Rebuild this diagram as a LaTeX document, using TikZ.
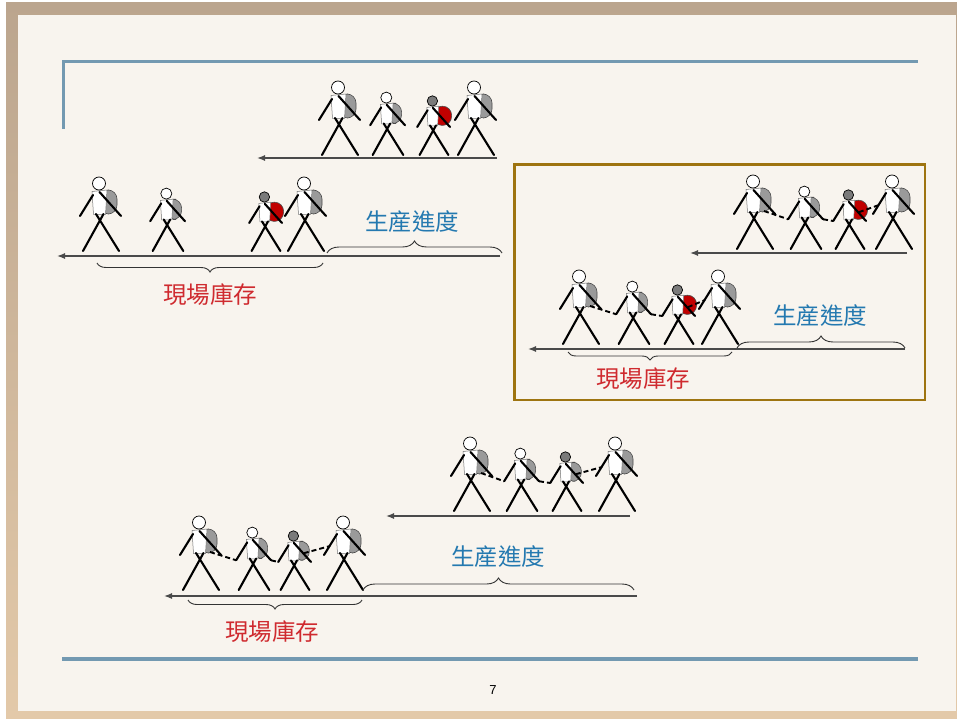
\documentclass[tikz,border=0pt]{standalone}
\usepackage{fontspec}
\setmainfont{Liberation Sans}
\newfontfamily\cjk{Noto Sans CJK TC}
\usetikzlibrary{arrows.meta,decorations.pathreplacing}

\definecolor{cream}{HTML}{F8F4EE}
\definecolor{frametop}{HTML}{BBA58E}
\definecolor{framebot}{HTML}{E3C9A9}
\definecolor{rulecol}{HTML}{7399B1}
\definecolor{boxgold}{HTML}{9E7410}
\definecolor{packgray}{HTML}{9A9A9A}
\definecolor{headgray}{HTML}{7A7A7A}
\definecolor{packred}{HTML}{C00000}
\definecolor{stockred}{HTML}{CF2A2F}
\definecolor{progblue}{HTML}{2479B0}
\definecolor{flowgray}{HTML}{4A4A4A}

\tikzset{
  limb/.style={line width=2.1pt, line cap=round},
  flow/.style={draw=flowgray, line width=1.3pt, -{Latex[length=8pt,width=6pt]}},
  rope/.style={line width=1.9pt, dash pattern=on 5pt off 3pt},
  curly/.style={decorate, decoration={brace, amplitude=#1}, draw=black!80, line width=0.9pt},
  curly/.default=9pt,
  stock/.style={text=stockred, font=\cjk\fontsize{23.5}{23.5}\selectfont, inner sep=0pt},
  prog/.style={text=progblue, font=\cjk\fontsize{23.5}{23.5}\selectfont, inner sep=0pt},
  % walker: head colour, pack colour, right edge of the pack
  pics/hiker/.style n args={3}{code={
    \filldraw[fill=#2, draw=black!70, line width=0.6pt, rounded corners=9pt]
      (-1,-61) -- (#3+1,-61) -- (#3+1,-37) -- (-1,-37) -- cycle;
    \filldraw[fill=white, draw=black!55, line width=0.5pt]
      (-9,-59.5) -- (6,-61) -- (4.5,-36.5) -- (-7.5,-36.5) -- cycle;
    \filldraw[fill=#1, draw=black, line width=0.7pt] (-2,-67.5) circle[radius=6.5pt];
    \draw[limb] (-8,-56) -- (-21,-35);
    \draw[limb] (-1.5,-59) -- (20,-35);
    \draw[limb] (-5,-37) -- (18,0);
    \draw[limb] (2.5,-37) -- (-18,0);
    \coordinate (-lh) at (-21,-35);
    \coordinate (-larm) at (-15,-44);
    \coordinate (-rh) at (20,-35);
    \coordinate (-hip) at (9,-38);
    \coordinate (-pack) at (11,-46);
  }},
}

\begin{document}
\begin{tikzpicture}[x=1pt, y=-1pt]
\useasboundingbox (0,0) rectangle (957,719);

% slide frame
\fill[white] (0,0) rectangle (957,719);
\shade[top color=frametop, bottom color=framebot] (6,3) rectangle (957,719);
\fill[cream] (18,15) rectangle (956,711);

% title and footer rules
\draw[rulecol, line width=3pt] (63.5,129) -- (63.5,61.3) -- (918,61.3);
\draw[rulecol, line width=4pt] (62,659) -- (918,659);

% ---------- row 1 ----------
\pic (a1) at (340,155) {hiker={white}{packgray}{15}};
\pic[scale=0.85] (a2) at (388,155) {hiker={white}{packgray}{15}};
\pic[scale=0.8] (a3) at (434,155) {hiker={headgray}{packred}{21}};
\pic (a4) at (476,155) {hiker={white}{packgray}{15}};
\coordinate (a-s) at (497,158);
\coordinate (a-e) at (257,158);
\draw[flow] (a-s) -- (a-e);

% ---------- row 2 ----------
\pic (b1) at (101,251) {hiker={white}{packgray}{15}};
\pic[scale=0.85] (b2) at (168,251) {hiker={white}{packgray}{15}};
\pic[scale=0.8] (b3) at (266,251) {hiker={headgray}{packred}{21}};
\pic (b4) at (306,251) {hiker={white}{packgray}{15}};
\coordinate (b-s) at (500,256);
\coordinate (b-e) at (57,256);
\draw[flow] (b-s) -- (b-e);
\coordinate (b-u1) at (323,263);
\coordinate (b-u2) at (97,263);
\draw[curly] (b-u1) -- (b-u2);
\node[stock] (b-stock) at (210,295) {現場庫存};
\coordinate (b-o1) at (327,253);
\coordinate (b-o2) at (502,253);
\draw[curly=12pt] (b-o1) -- (b-o2);
\node[prog] (b-prog) at (412,222) {生産進度};

% ---------- roped team in the frame ----------
\draw[boxgold, line width=2.5pt] (514.5,164.5) rectangle (925,400);

\pic (c1) at (755,249) {hiker={white}{packgray}{15}};
\pic[scale=0.85] (c2) at (806,249) {hiker={white}{packgray}{15}};
\pic[scale=0.8] (c3) at (850,249) {hiker={headgray}{packred}{21}};
\pic (c4) at (894,249) {hiker={white}{packgray}{15}};
\draw[rope] (c1-hip) -- (c2-lh);
\draw[rope] (c2-rh) -- (c3-lh);
\draw[rope] (c3-pack) -- (c4-larm);
\coordinate (c-s) at (907,253);
\coordinate (c-e) at (690,253);
\draw[flow] (c-s) -- (c-e);

\pic (d1) at (581,344) {hiker={white}{packgray}{15}};
\pic[scale=0.85] (d2) at (634,344) {hiker={white}{packgray}{15}};
\pic[scale=0.8] (d3) at (679,344) {hiker={headgray}{packred}{21}};
\pic (d4) at (720,344) {hiker={white}{packgray}{15}};
\draw[rope] (d1-hip) -- (d2-lh);
\draw[rope] (d2-rh) -- (d3-lh);
\draw[rope] (d3-pack) -- (d4-larm);
\coordinate (d-s) at (905,349);
\coordinate (d-e) at (528,349);
\draw[flow] (d-s) -- (d-e);
\coordinate (d-u1) at (732,352);
\coordinate (d-u2) at (568,352);
\draw[curly=8pt] (d-u1) -- (d-u2);
\node[stock] (d-stock) at (643,379) {現場庫存};
\coordinate (d-o1) at (737,348);
\coordinate (d-o2) at (905,348);
\draw[curly=12pt] (d-o1) -- (d-o2);
\node[prog] (d-prog) at (820,316) {生産進度};

% ---------- bottom roped team ----------
\pic (e1) at (472,511) {hiker={white}{packgray}{15}};
\pic[scale=0.85] (e2) at (522,511) {hiker={white}{packgray}{15}};
\pic[scale=0.8] (e3) at (567,511) {hiker={headgray}{packgray}{17}};
\pic (e4) at (617,511) {hiker={white}{packgray}{15}};
\draw[rope] (e1-hip) -- (e2-lh);
\draw[rope] (e2-rh) -- (e3-lh);
\draw[rope] (e3-pack) -- (e4-larm);
\coordinate (e-s) at (630,516);
\coordinate (e-e) at (386,516);
\draw[flow] (e-s) -- (e-e);

\pic (f1) at (201,590) {hiker={white}{packgray}{15}};
\pic[scale=0.85] (f2) at (254,590) {hiker={white}{packgray}{15}};
\pic[scale=0.8] (f3) at (295,590) {hiker={headgray}{packgray}{17}};
\pic (f4) at (345,590) {hiker={white}{packgray}{15}};
\draw[rope] (f1-hip) -- (f2-lh);
\draw[rope] (f2-rh) -- (f3-lh);
\draw[rope] (f3-pack) -- (f4-larm);
\coordinate (f-s) at (637,596);
\coordinate (f-e) at (164,596);
\draw[flow] (f-s) -- (f-e);
\coordinate (f-u1) at (362,600);
\coordinate (f-u2) at (188,600);
\draw[curly] (f-u1) -- (f-u2);
\node[stock] (f-stock) at (272,632) {現場庫存};
\coordinate (f-o1) at (363,590);
\coordinate (f-o2) at (634,590);
\draw[curly=12pt] (f-o1) -- (f-o2);
\node[prog] (f-prog) at (498,557) {生産進度};

% page number
\node[inner sep=0pt, font=\fontsize{13}{13}\selectfont] (pg) at (493,690) {7};
\end{tikzpicture}
\end{document}
